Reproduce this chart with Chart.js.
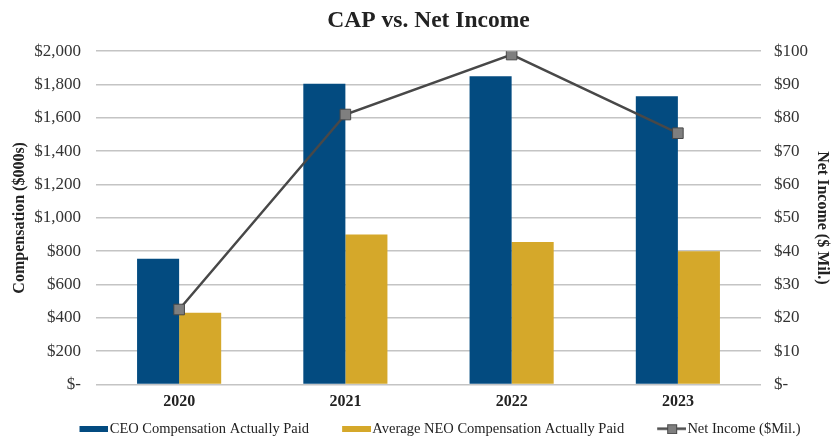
<!DOCTYPE html>
<html>
<head>
<meta charset="utf-8">
<script src="https://cdn.jsdelivr.net/npm/chart.js@4"></script>
<style>
  body { margin: 0; background: #fff; }
  #wrap { width: 832px; height: 441px; position: relative; }
</style>
</head>
<body>
<div id="wrap"><canvas id="chart"></canvas></div>
<script>
// Chart data
const years = ['2020', '2021', '2022', '2023'];
const ceoCap = [755, 1805, 1850, 1730];     // $000s
const neoCap = [430, 900, 855, 800];        // $000s
const netIncome = [22.5, 81, 99, 75.4];     // $ Mil.
const leftTicks = [0, 200, 400, 600, 800, 1000, 1200, 1400, 1600, 1800, 2000];
const rightTicks = [0, 10, 20, 30, 40, 50, 60, 70, 80, 90, 100];

const BLUE = '#034b80';
const GOLD = '#d5a82a';
const LINE = '#484848';
const MARK = '#7f7f7f';
const SERIF = "'Liberation Serif', 'Times New Roman', serif";

const dollar = v => v === 0 ? '$-' : '$' + v.toLocaleString('en-US');

// legend symbols: the canvas is 12px wider than the legend box, so the
// symbol can sit right against its text; blank space on the left spaces items
const SW = 56;
const CW = SW + 12;
function barSwatch(color) {
    const c = document.createElement('canvas');
    c.width = CW; c.height = 6;
    const g = c.getContext('2d');
    g.fillStyle = color;
    g.fillRect(CW - 29, 0, 29, 6);
    return c;
}
function lineSwatch() {
    const c = document.createElement('canvas');
    c.width = CW; c.height = 11;
    const g = c.getContext('2d');
    const x0 = CW - 29;
    g.strokeStyle = LINE; g.lineWidth = 2.5;
    g.beginPath(); g.moveTo(x0, 5.5); g.lineTo(x0 + 29, 5.5); g.stroke();
    g.fillStyle = MARK; g.fillRect(x0 + 10, 1, 10, 10);
    g.lineWidth = 1; g.strokeRect(x0 + 10.5, 1.5, 9, 9);
    return c;
}

// title centred over the plot, legend nudged right like the original
const placeBlocks = {
    id: 'placeBlocks',
    afterLayout(chart) {
        const t = chart.titleBlock;
        if (t) {
            t.left = chart.chartArea.left;
            t.right = chart.chartArea.right;
        }
        const lg = chart.legend;
        if (lg) lg.left = 15;
    }
};

new Chart(document.getElementById('chart'), {
    data: {
        labels: years,
        datasets: [
            {
                type: 'line',
                label: 'Net Income ($Mil.)',
                data: netIncome,
                yAxisID: 'y2',
                borderColor: LINE,
                borderWidth: 2.5,
                pointStyle: 'rect',
                pointRadius: 7.5,
                pointBackgroundColor: MARK,
                pointBorderColor: LINE,
                pointBorderWidth: 1,
                tension: 0,
                order: 0
            },
            {
                type: 'bar',
                label: 'CEO Compensation Actually Paid',
                data: ceoCap,
                yAxisID: 'y',
                backgroundColor: BLUE,
                categoryPercentage: 0.506,
                barPercentage: 1,
                order: 1
            },
            {
                type: 'bar',
                label: 'Average NEO Compensation Actually Paid',
                data: neoCap,
                yAxisID: 'y',
                backgroundColor: GOLD,
                categoryPercentage: 0.506,
                barPercentage: 1,
                order: 2
            }
        ]
    },
    options: {
        responsive: true,
        maintainAspectRatio: false,
        animation: false,
        // legend box has spare room underneath, so let it hang past the bottom edge
        layout: { padding: { left: 0, right: 0, top: 7, bottom: -5 } },
        plugins: {
            title: {
                display: true,
                text: 'CAP vs. Net Income',
                color: '#222',
                font: { family: SERIF, size: 23.5, weight: 'bold' },
                padding: { top: 0, bottom: 16 }
            },
            legend: {
                position: 'bottom',
                labels: {
                    usePointStyle: true,
                    pointStyleWidth: SW,
                    boxHeight: 11,
                    padding: 0,
                    color: '#222',
                    font: { family: SERIF, size: 14.5 },
                    generateLabels: () => [
                        { text: 'CEO Compensation Actually Paid', pointStyle: barSwatch(BLUE), fontColor: '#222', datasetIndex: 1, lineWidth: 0 },
                        { text: 'Average NEO Compensation Actually Paid', pointStyle: barSwatch(GOLD), fontColor: '#222', datasetIndex: 2, lineWidth: 0 },
                        { text: 'Net Income ($Mil.)', pointStyle: lineSwatch(), fontColor: '#222', datasetIndex: 0, lineWidth: 0 }
                    ]
                }
            },
            tooltip: { enabled: false }
        },
        scales: {
            x: {
                grid: { display: false, drawTicks: false },
                border: { display: false },
                ticks: { color: '#222', font: { family: SERIF, size: 16, weight: 'bold' }, padding: 8 },
                afterFit: s => { s.height = 37; }
            },
            y: {
                position: 'left',
                min: 0, max: 2000,
                afterBuildTicks: axis => { axis.ticks = leftTicks.map(v => ({ value: v })); },
                grid: { color: '#c4c4c4', lineWidth: 1.5, drawTicks: false },
                border: { display: false },
                ticks: { color: '#333', font: { family: SERIF, size: 17 }, padding: 15, callback: dollar },
                title: {
                    display: true,
                    text: 'Compensation ($000s)',
                    color: '#222',
                    font: { family: SERIF, size: 16, weight: 'bold' },
                    padding: { top: 10, bottom: 0 }
                },
                afterFit: s => { s.width = 96; }
            },
            y2: {
                position: 'right',
                min: 0, max: 100,
                afterBuildTicks: axis => { axis.ticks = rightTicks.map(v => ({ value: v })); },
                grid: { display: false, drawTicks: false },
                border: { display: false },
                ticks: { color: '#333', font: { family: SERIF, size: 17 }, padding: 13, callback: dollar },
                title: {
                    display: true,
                    text: 'Net Income ($ Mil.)',
                    color: '#222',
                    font: { family: SERIF, size: 16, weight: 'bold' },
                    padding: { top: 0, bottom: 0 }
                },
                afterFit: s => { s.width = 71; }
            }
        }
    },
    plugins: [placeBlocks]
});
</script>
</body>
</html>
